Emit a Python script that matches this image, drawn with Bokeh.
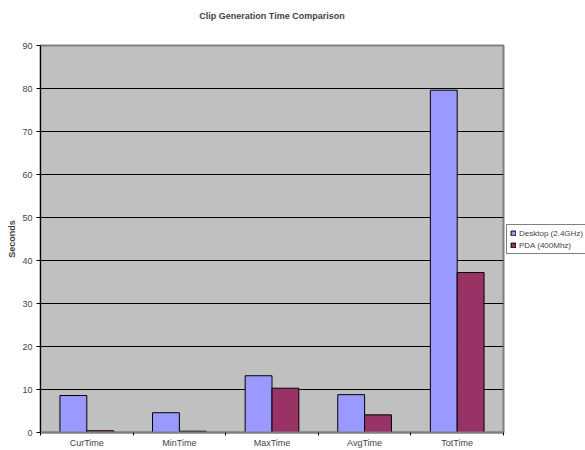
import numpy as np
from bokeh.plotting import figure
from bokeh.models import (ColumnDataSource, FixedTicker, Range1d, Legend, LegendItem, Title)
from bokeh.embed import file_html
from bokeh.resources import INLINE

categories = ["CurTime", "MinTime", "MaxTime", "AvgTime", "TotTime"]
desktop = [8.6, 4.6, 13.2, 8.8, 79.6]
pda = [0.4, 0.3, 10.3, 4.1, 37.2]
series_names = ["Desktop (2.4GHz)", "PDA (400Mhz)"]
y_ticks = [0, 10, 20, 30, 40, 50, 60, 70, 80, 90]
chart_title = "Clip Generation Time Comparison"

FONT = "Liberation Sans"
bw = 0.29
idx = np.arange(len(categories))

src = ColumnDataSource(dict(
    xd=idx + 0.5 - bw / 2, xp=idx + 0.5 + bw / 2,
    desktop=desktop, pda=pda))

p = figure(width=585, height=450, output_backend="svg", toolbar_location=None,
           x_range=Range1d(0, len(categories)), y_range=Range1d(0, 90),
           frame_width=463, frame_height=387,
           min_border_left=40, min_border_right=82, min_border_top=0, min_border_bottom=18)
p.title = None
p.background_fill_color = "#C0C0C0"
p.border_fill_color = "white"
p.outline_line_color = "#808080"
p.outline_line_width = 2

# spacer (nearest the frame), then the real title
spacer = Title(text=" ", text_font_size="1px", standoff=14)
p.add_layout(spacer, "above")
t = Title(text=chart_title, align="center", text_font=FONT, text_font_size="9px",
          text_font_style="bold", standoff=16)
p.add_layout(t, "above")

r1 = p.vbar(x="xd", top="desktop", width=bw, source=src, fill_color="#9999FF",
            line_color="black", line_width=1)
r2 = p.vbar(x="xp", top="pda", width=bw, source=src, fill_color="#993366",
            line_color="black", line_width=1)

# axes
p.xaxis.ticker = FixedTicker(ticks=list(idx + 0.5), minor_ticks=list(range(0, len(categories) + 1)))
p.xaxis.major_label_overrides = {float(i + 0.5): c for i, c in enumerate(categories)}
p.xaxis.major_tick_out = 0
p.xaxis.major_tick_in = 0
p.xaxis.minor_tick_out = 3
p.xaxis.minor_tick_in = 0
p.xaxis.axis_line_color = "#808080"
p.xaxis.axis_line_width = 2
p.xaxis.major_label_text_font = FONT
p.xaxis.major_label_text_font_size = "9px"
p.xaxis.major_label_standoff = 2

p.yaxis.ticker = FixedTicker(ticks=y_ticks)
p.yaxis.major_tick_out = 4
p.yaxis.major_tick_in = 0
p.yaxis.minor_tick_out = 0
p.yaxis.axis_line_color = "black"
p.yaxis.major_label_text_font = FONT
p.yaxis.major_label_text_font_size = "9px"
p.yaxis.major_label_standoff = 4
p.yaxis.axis_label = "Seconds"
p.yaxis.axis_label_text_font = FONT
p.yaxis.axis_label_text_font_size = "9px"
p.yaxis.axis_label_text_font_style = "bold"
p.yaxis.axis_label_standoff = 2

p.xgrid.grid_line_color = None
p.ygrid.ticker = FixedTicker(ticks=y_ticks[1:-1])
p.ygrid.grid_line_color = "black"
p.ygrid.grid_line_width = 1

legend = Legend(items=[LegendItem(label=series_names[0], renderers=[r1]),
                       LegendItem(label=series_names[1], renderers=[r2])],
                location=(3, 178))
legend.label_text_font = FONT
legend.label_text_font_size = "8px"
legend.label_height = 10
legend.glyph_height = 6
legend.glyph_width = 6
legend.spacing = 2
legend.padding = 3
legend.margin = 0
legend.label_standoff = 3
legend.border_line_color = "black"
legend.border_line_width = 1
legend.background_fill_color = "white"
p.add_layout(legend, "right")

open("out.html", "w").write(file_html(p, INLINE))
